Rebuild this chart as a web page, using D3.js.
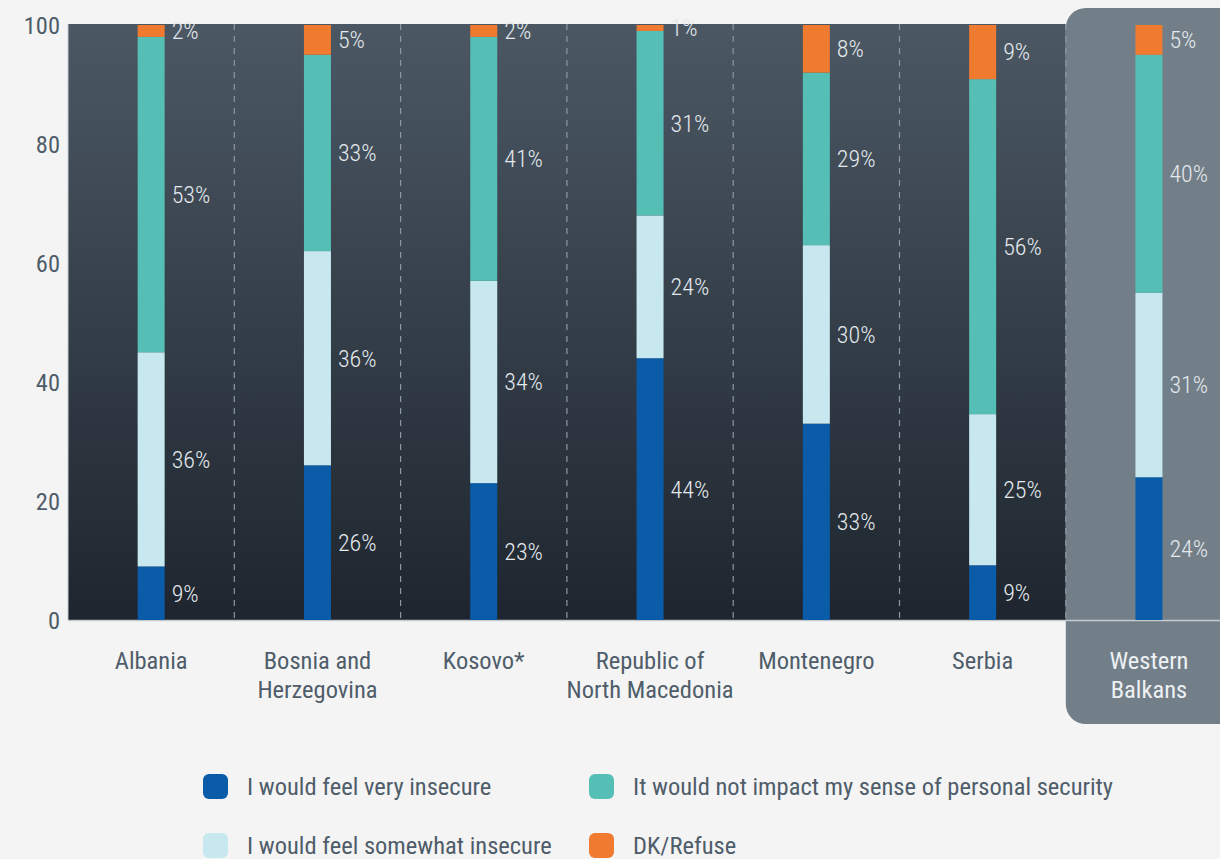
<!DOCTYPE html>
<html>
<head>
<meta charset="utf-8">
<script src="https://cdn.jsdelivr.net/npm/d3@7"></script>
<style>
    body { margin: 0; background: #f4f4f4; }
    svg text { font-family: "Roboto Condensed", "Liberation Sans Narrow", Roboto, sans-serif; }
</style>
</head>
<body>
<svg id="chart" width="1220" height="859"></svg>
<script>
(function () {
    'use strict';

    // --- Data ----------------------------------------------------------

    var categories = [
        ['Albania'],
        ['Bosnia and', 'Herzegovina'],
        ['Kosovo*'],
        ['Republic of', 'North Macedonia'],
        ['Montenegro'],
        ['Serbia'],
        ['Western', 'Balkans']
    ];
    var seriesNames = [
        'I would feel very insecure',
        'I would feel somewhat insecure',
        'It would not impact my sense of personal security',
        'DK/Refuse'
    ];
    // values (labels are rounded)
    var veryInsecure     = [9, 26, 23, 44, 33, 9.2, 24];
    var somewhatInsecure = [36, 36, 34, 24, 30, 25.4, 31];
    var noImpact         = [53, 33, 41, 31, 29, 56.3, 40];
    var dkRefuse         = [2, 5, 2, 1, 8, 9.1, 5];
    var yTicks = [0, 20, 40, 60, 80, 100];

    var colors = ['#0a5ca8', '#c6e8ee', '#55bfb5', '#f07a30'];

    // --- Layout --------------------------------------------------------

    var svg = d3.select('#chart'),
        left = 68, top = 24, bottom = 620, bandW = 166.3,
        barW = 27,
        textCol = '#4f5d6a',
        labelCol = '#e4e9ed',
        fontSize = '24.5px';

    var keys = categories.map(function (c) { return c.join(' '); });

    var x = d3.scaleBand().domain(keys)
        .range([left, left + bandW * keys.length]).padding(0);
    var y = d3.scaleLinear().domain([0, 100]).range([bottom, top + 1]);

    var rows = keys.map(function (k, i) {
        return { key: k, v: [veryInsecure[i], somewhatInsecure[i], noImpact[i], dkRefuse[i]] };
    });
    var stack = d3.stack().keys([0, 1, 2, 3]).value(function (d, k) { return d.v[k]; });
    var layers = stack(rows);

    // --- Background ----------------------------------------------------

    var defs = svg.append('defs');
    var grad = defs.append('linearGradient').attr('id', 'bg')
        .attr('x1', 0).attr('y1', 0).attr('x2', 0).attr('y2', 1);
    grad.append('stop').attr('offset', '0%').attr('stop-color', '#4b5864');
    grad.append('stop').attr('offset', '100%').attr('stop-color', '#1e252e');

    var wbX = x(keys[6]);
    svg.append('rect')
        .attr('x', left).attr('y', top)
        .attr('width', wbX - left).attr('height', bottom - top)
        .attr('fill', 'url(#bg)');

    svg.append('rect')
        .attr('x', wbX).attr('y', 8)
        .attr('width', 1240 - wbX).attr('height', 716)
        .attr('rx', 20).attr('ry', 20)
        .attr('fill', '#737f88');

    // dashed separators between countries
    svg.append('g').selectAll('line')
        .data(keys.slice(1))
        .join('line')
        .attr('x1', function (d) { return x(d); })
        .attr('x2', function (d) { return x(d); })
        .attr('y1', top).attr('y2', bottom)
        .attr('stroke', '#8d98a2').attr('stroke-width', 1.2)
        .attr('stroke-dasharray', '6,6');

    // baseline and left axis line
    svg.append('line')
        .attr('x1', left).attr('x2', 1220)
        .attr('y1', bottom + 0.5).attr('y2', bottom + 0.5)
        .attr('stroke', '#c5cacf').attr('stroke-width', 1.5);
    svg.append('line')
        .attr('x1', left).attr('x2', left)
        .attr('y1', top).attr('y2', bottom)
        .attr('stroke', '#c5cacf').attr('stroke-width', 1);

    // --- Y axis ---------------------------------------------------------

    var yAxis = svg.append('g')
        .attr('transform', 'translate(' + (left - 8) + ',0)')
        .call(d3.axisLeft(y).tickValues(yTicks).tickSize(0).tickPadding(0));
    yAxis.select('.domain').remove();
    yAxis.selectAll('text')
        .attr('fill', textCol)
        .style('font-size', fontSize)
        .attr('dy', '0.35em');

    // --- Bars -----------------------------------------------------------

    var barX = function (d) { return x(d.data.key) + x.bandwidth() / 2 - barW / 2; };

    var g = svg.append('g').selectAll('g')
        .data(layers)
        .join('g')
        .attr('fill', function (d, i) { return colors[i]; });

    g.selectAll('rect')
        .data(function (d) { return d; })
        .join('rect')
        .attr('x', barX)
        .attr('width', barW)
        .attr('y', function (d) { return y(d[1]); })
        .attr('height', function (d) { return y(d[0]) - y(d[1]); });

    g.selectAll('text')
        .data(function (d) { return d; })
        .join('text')
        .attr('x', function (d) { return barX(d) + barW + 7; })
        .attr('y', function (d) { return (y(d[0]) + y(d[1])) / 2; })
        .attr('dy', '0.35em')
        .attr('fill', labelCol)
        .style('font-size', '24px')
        .style('font-weight', 300)
        .text(function (d) { return Math.round(d[1] - d[0]) + '%'; });

    // --- Category labels -------------------------------------------------

    var cat = svg.append('g').selectAll('text')
        .data(categories)
        .join('text')
        .attr('text-anchor', 'middle')
        .attr('fill', function (d, i) { return i === 6 ? '#eef1f3' : textCol; })
        .style('font-size', fontSize)
        .attr('transform', function (d, i) {
            return 'translate(' + (x(keys[i]) + x.bandwidth() / 2) + ',669)';
        });
    cat.selectAll('tspan')
        .data(function (d) { return d; })
        .join('tspan')
        .attr('x', 0)
        .attr('dy', function (d, i) { return i === 0 ? 0 : 29; })
        .text(function (d) { return d; });

    // --- Legend ----------------------------------------------------------

    var legendPos = [[203, 786], [203, 845], [589, 786], [589, 845]];
    var legend = svg.append('g').selectAll('g')
        .data(seriesNames)
        .join('g')
        .attr('transform', function (d, i) {
            return 'translate(' + legendPos[i][0] + ',' + legendPos[i][1] + ')';
        });
    legend.append('rect')
        .attr('x', 0).attr('y', -12)
        .attr('width', 25).attr('height', 25)
        .attr('rx', 6)
        .attr('fill', function (d, i) { return colors[i]; });
    legend.append('text')
        .attr('x', 44).attr('dy', '0.35em')
        .attr('fill', textCol)
        .style('font-size', fontSize)
        .text(function (d) { return d; });
}());
</script>
</body>
</html>
